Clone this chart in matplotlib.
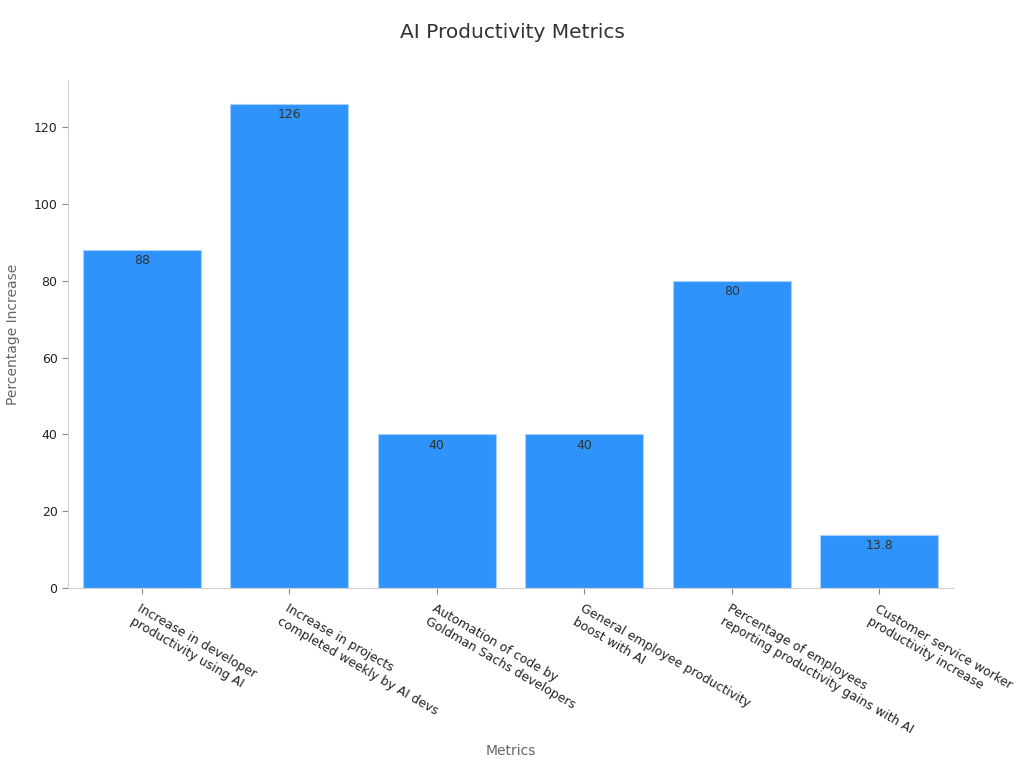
import matplotlib
matplotlib.use("Agg")
import matplotlib.pyplot as plt

categories = [
    "Increase in developer\nproductivity using AI",
    "Increase in projects\ncompleted weekly by AI devs",
    "Automation of code by\nGoldman Sachs developers",
    "General employee productivity\nboost with AI",
    "Percentage of employees\nreporting productivity gains with AI",
    "Customer service worker\nproductivity increase",
]
values = [88, 126, 40, 40, 80, 13.8]
value_labels = ["88", "126", "40", "40", "80", "13.8"]

fig = plt.figure(figsize=(10.24, 7.68), dpi=100)
ax = fig.add_axes([68/1024, 1-588/768, (953-68)/1024, (588-80)/768])

x = list(range(len(values)))
bars = ax.bar(x, values, width=0.8, color="#2E93FA", edgecolor="#a8d0fb", linewidth=0.8)
for xi, v, lab in zip(x, values, value_labels):
    ax.annotate(lab, (xi, v), xytext=(0, -3), textcoords="offset points",
                ha="center", va="top", fontsize=9, color="#333333")

ax.set_xlim(-0.5, 5.5)
ax.set_ylim(0, 132.3)
ax.set_yticks([0, 20, 40, 60, 80, 100, 120])
ax.set_xticks(x)
ax.set_xticklabels(categories, rotation=-30, ha="left", rotation_mode="anchor", fontsize=9, color="#222222")
ax.tick_params(axis="y", labelsize=9, colors="#222222", length=4, color="#888888")
ax.tick_params(axis="x", length=4, color="#888888", pad=6)
for s in ["top", "right"]:
    ax.spines[s].set_visible(False)
for s in ["left", "bottom"]:
    ax.spines[s].set_color("#d0d0d0")
ax.set_ylabel("Percentage Increase", fontsize=10, color="#666666")
ax.set_xlabel("Metrics", fontsize=10, color="#666666")
ax.yaxis.set_label_coords(-(68-20)/885, 0.5)
ax.xaxis.set_label_coords(0.5, -(744-588)/508)
fig.suptitle("AI Productivity Metrics", y=1-33/768, va="center", fontsize=14.5, color="#333333")

fig.savefig("out.png", dpi=100)
